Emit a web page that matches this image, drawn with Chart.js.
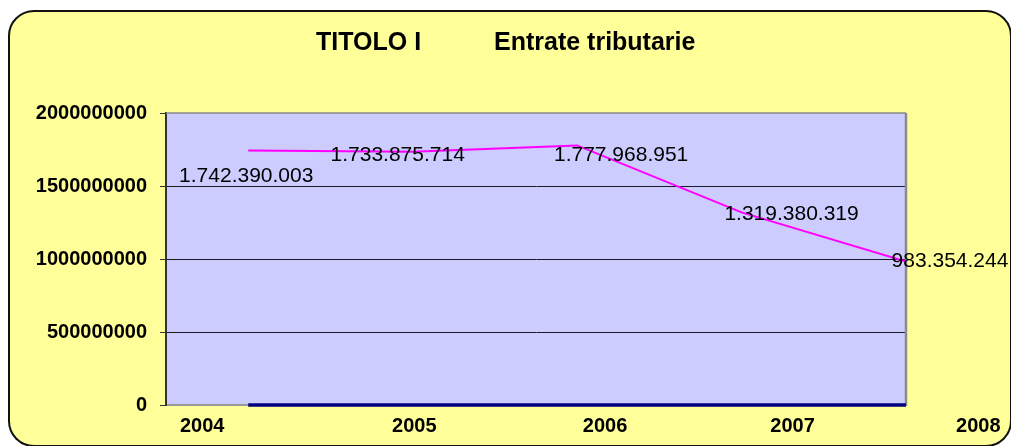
<!DOCTYPE html>
<html>
<head>
<meta charset="utf-8">
<script src="https://cdn.jsdelivr.net/npm/chart.js@4"></script>
<style>
  html, body { margin: 0; padding: 0; background: #fff; }
  #wrap { position: relative; width: 1011px; height: 446px; overflow: hidden; }
  #frame {
    position: absolute; left: 8px; top: 10px; width: 1004px; height: 437px;
    box-sizing: border-box; background: #ffff99;
    border: 2px solid #111; border-radius: 26px;
  }
  canvas { position: absolute; left: 0; top: 0; }
</style>
</head>
<body>
<div id="wrap">
  <div id="frame"></div>
  <canvas id="chart" width="1011" height="446"></canvas>
</div>
<script>
// data
const years = ["2004", "2005", "2006", "2007", "2008"];
const entrate = [1742390003, 1733875714, 1777968951, 1319380319, 983354244];
const baseSeries = [0, 0, 0, 0, 0];
const yTicks = [0, 500000000, 1000000000, 1500000000, 2000000000];

// layout bits (where the year labels sit along the axis, label nudges)
const yearLabelAt = [-0.28, 1.01, 2.17, 3.31, 4.44];
const labelShift = [[-2, 26], [-15, 3], [44, 10], [50, 2], [44, 0]];

const FONT = "'Liberation Sans', Arial, sans-serif";

function fmt(v) {
  return String(v).replace(/\B(?=(\d{3})+(?!\d))/g, ".");
}

const plotBox = {
  id: "plotBox",
  beforeDraw(chart) {
    const a = chart.chartArea;
    const ctx = chart.ctx;
    ctx.save();
    ctx.fillStyle = "#ccccff";
    ctx.fillRect(a.left, a.top, a.right - a.left, a.bottom - a.top);
    ctx.restore();
  },
  beforeDatasetsDraw(chart) {
    const a = chart.chartArea;
    const ctx = chart.ctx;
    ctx.save();
    ctx.strokeStyle = "#8a8a8a";
    ctx.lineWidth = 1.5;
    ctx.beginPath();
    ctx.moveTo(a.left, a.top);
    ctx.lineTo(a.right, a.top);
    ctx.stroke();
    ctx.lineWidth = 2.5;
    ctx.beginPath();
    ctx.moveTo(a.right, a.top);
    ctx.lineTo(a.right, a.bottom + 1);
    ctx.stroke();
    ctx.restore();
  }
};

const valueLabels = {
  id: "valueLabels",
  afterDatasetsDraw(chart) {
    const ctx = chart.ctx;
    const meta = chart.getDatasetMeta(0);
    ctx.save();
    ctx.font = "21px " + FONT;
    ctx.fillStyle = "#000";
    ctx.textAlign = "center";
    ctx.textBaseline = "middle";
    meta.data.forEach((pt, i) => {
      ctx.fillText(fmt(entrate[i]), pt.x + labelShift[i][0], pt.y + labelShift[i][1]);
    });
    ctx.restore();
  }
};

const titleText = {
  id: "titleText",
  afterDraw(chart) {
    const ctx = chart.ctx;
    ctx.save();
    ctx.font = "bold 25px " + FONT;
    ctx.fillStyle = "#000";
    ctx.textBaseline = "alphabetic";
    ctx.fillText("TITOLO I", 316, 50);
    ctx.fillText("Entrate tributarie", 494, 50);
    ctx.restore();
  }
};

new Chart(document.getElementById("chart"), {
  type: "line",
  data: {
    datasets: [
      {
        label: "Entrate tributarie",
        data: entrate.map((v, i) => ({ x: i, y: v })),
        borderColor: "#ff00ff",
        borderWidth: 2,
        pointRadius: 0,
        tension: 0,
        fill: false
      },
      {
        label: "base",
        data: baseSeries.map((v, i) => ({ x: i, y: v })),
        borderColor: "#000080",
        borderWidth: 3.5,
        pointRadius: 0,
        tension: 0,
        fill: false,
        clip: false
      }
    ]
  },
  options: {
    responsive: false,
    animation: false,
    devicePixelRatio: 1,
    layout: { padding: { left: 0, right: 105, top: 113, bottom: 0 } },
    plugins: {
      legend: { display: false },
      title: { display: false },
      tooltip: { enabled: false }
    },
    scales: {
      x: {
        type: "linear",
        min: -0.5,
        max: 4,
        afterBuildTicks: (s) => { s.ticks = yearLabelAt.map((v) => ({ value: v })); },
        afterFit: (s) => { s.height = 41; },
        grid: { display: false, drawTicks: false },
        border: { display: true, color: "#999", width: 2 },
        ticks: {
          autoSkip: false,
          maxRotation: 0,
          padding: 9,
          color: "#000",
          font: { family: FONT, size: 20, weight: "bold" },
          callback: (v, i) => years[i]
        }
      },
      y: {
        min: 0,
        max: 2000000000,
        afterBuildTicks: (s) => { s.ticks = yTicks.map((v) => ({ value: v })); },
        afterFit: (s) => { s.width = 166; },
        grid: {
          color: (c) => (c.tick && c.tick.value > 0 && c.tick.value < 2000000000) ? "#1a1a2a" : "rgba(0,0,0,0)",
          tickColor: "#333",
          tickLength: 6,
          lineWidth: 1
        },
        border: { color: "#333", width: 2 },
        ticks: {
          padding: 13,
          color: "#000",
          font: { family: FONT, size: 20, weight: "bold" },
          callback: (v) => String(v)
        }
      }
    }
  },
  plugins: [plotBox, valueLabels, titleText]
});
</script>
</body>
</html>
